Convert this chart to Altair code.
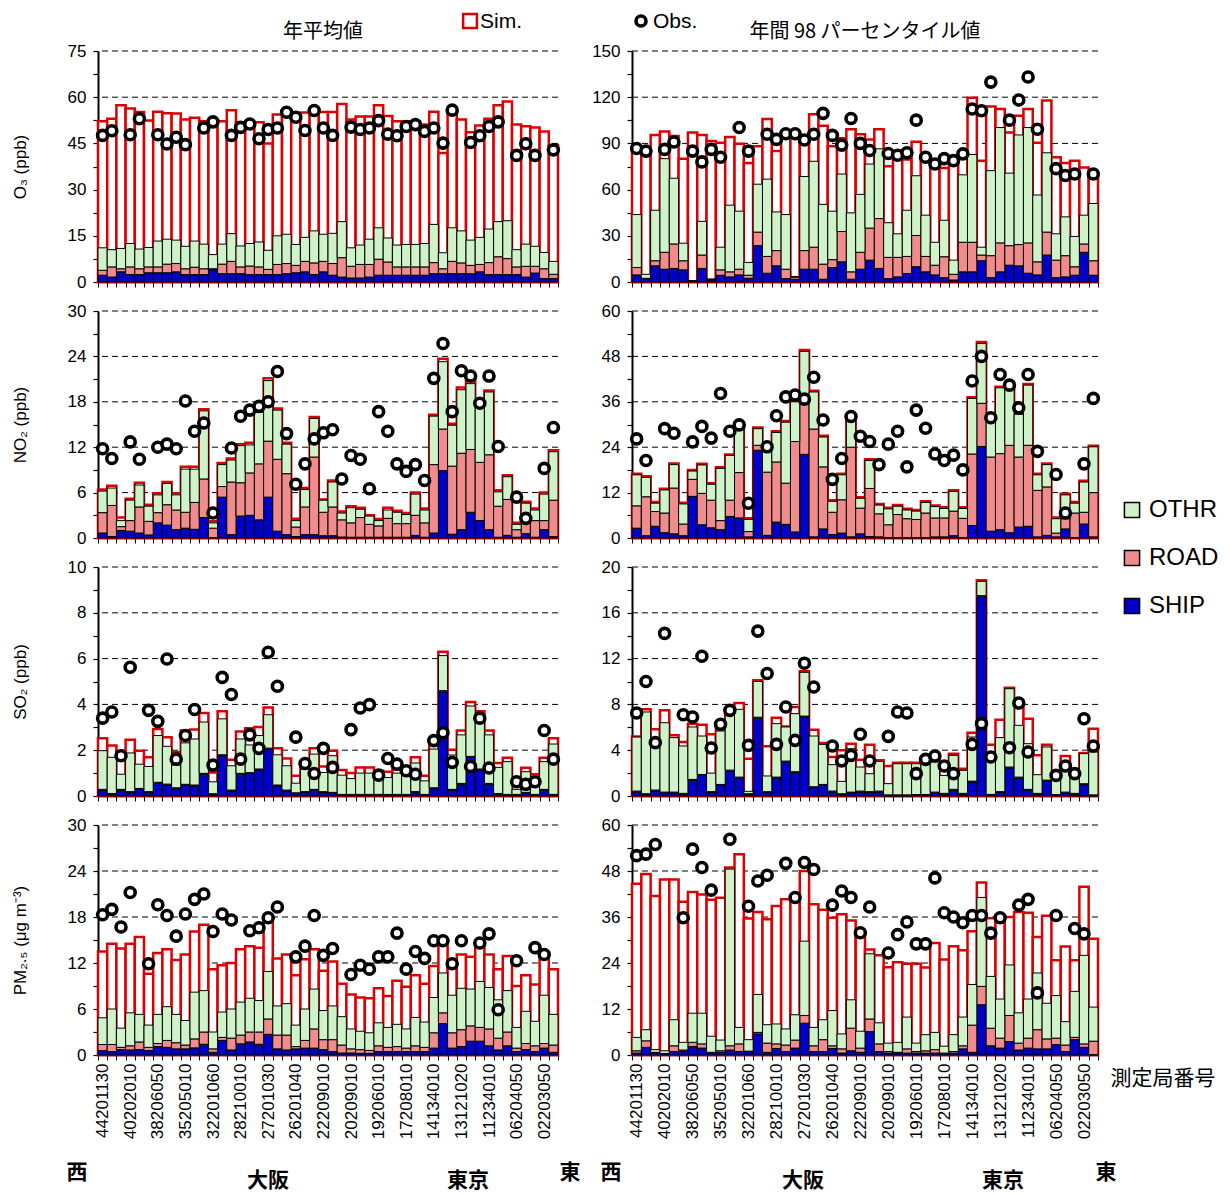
import altair as alt
import pandas as pd

N = 50
STATION_IDX = list(range(N))
STATION_LABELS = ["44201130", "40202010", "38206050", "35205010", "32201060", "28210010",
                  "27201030", "26201040", "22209010", "20209010", "19206010", "17208010",
                  "14134010", "13121020", "11234010", "06204050", "02203050"]
LABEL_STEP = 3

COMPONENTS = ["OTHR", "ROAD", "SHIP"]
COMP_COLORS = ["#d0f2c8", "#f08c8c", "#0000c8"]
SIM_COLOR = "#dd0000"

# ---------------- O3 annual mean (ppb) ----------------
O3A_SHIP = [2.2, 1.6, 3.3, 2.4, 2.4, 3.0, 3.0, 3.0, 3.3, 2.4, 2.4, 2.4, 4.0, 2.7, 2.7, 2.7, 2.4, 2.4, 2.4, 2.4,
            2.7, 3.0, 3.3, 2.4, 3.3, 2.2, 1.6, 1.3, 1.3, 1.6, 2.2, 2.2, 2.2, 2.2, 2.2, 2.2, 2.7, 2.7, 2.7, 2.7,
            2.7, 3.3, 2.4, 2.4, 2.4, 2.4, 1.6, 2.9, 1.1, 1.1]
O3A_ROAD_TOP = [3.8, 4.9, 4.3, 4.9, 4.3, 4.9, 4.9, 5.8, 6.0, 4.3, 4.8, 4.3, 4.3, 5.8, 6.7, 4.9, 5.2, 4.9, 4.1, 5.7,
                6.0, 5.4, 6.7, 6.2, 6.7, 6.0, 7.9, 5.1, 5.7, 5.7, 7.4, 6.5, 4.9, 4.9, 4.9, 4.9, 6.3, 4.3, 6.7, 6.2,
                5.4, 5.7, 6.3, 8.2, 7.6, 4.9, 5.1, 5.1, 4.3, 2.5]
O3A_OTHR_TOP = [11.1, 10.5, 10.9, 12.5, 10.7, 11.2, 13.3, 13.9, 13.6, 11.6, 13.3, 12.3, 8.9, 12.3, 15.7, 11.7, 12.5,
                13.0, 10.3, 15.0, 15.5, 12.2, 14.5, 16.6, 15.5, 15.8, 19.6, 11.1, 12.0, 13.9, 17.6, 14.3, 12.0, 12.2,
                12.2, 12.5, 18.7, 9.5, 17.6, 16.6, 13.6, 14.5, 17.2, 19.6, 19.9, 10.5, 12.3, 11.6, 9.6, 6.7]
O3A_SIM = [52.2, 53.0, 57.4, 56.3, 55.2, 52.4, 55.3, 54.8, 54.7, 52.8, 53.3, 52.2, 52.2, 52.2, 55.8, 51.9, 51.9,
           51.9, 45.0, 54.4, 55.6, 54.8, 55.0, 55.3, 55.2, 55.2, 57.8, 52.8, 53.7, 53.7, 57.4, 53.9, 52.2, 52.2,
           52.2, 51.1, 55.3, 41.9, 55.7, 52.8, 48.6, 50.8, 53.0, 57.4, 58.6, 51.1, 50.6, 50.2, 48.9, 44.4]
O3A_OBS = [47.6, 49.1, None, 47.8, 53.0, None, 47.8, 44.8, 47.0, 44.6, None, 50.0, 52.0, None, 47.6, 50.2, 51.3,
           46.5, 49.5, 50.0, 55.1, 53.5, 49.2, 55.7, 50.0, 47.6, None, 50.3, 49.5, 50.0, 52.4, 48.0, 47.5, 50.5,
           51.1, 48.9, 50.0, 45.1, 55.8, None, 45.3, 47.5, 50.5, 52.0, None, 41.1, 44.9, 41.1, None, 42.9]

# ---------------- O3 annual 98th percentile (ppb) ----------------
O3B_SHIP = [4.6, 1.8, 10.5, 8.3, 8.8, 7.9, 0.7, 8.8, 1.3, 4.4, 3.3, 4.6, 2.4, 23.6, 5.7, 10.5, 2.2, 1.8, 8.3, 8.3,
            1.8, 9.4, 13.1, 1.8, 8.3, 14.2, 8.8, 2.2, 3.3, 5.5, 9.9, 6.6, 4.6, 2.8, 1.3, 6.6, 6.6, 13.8, 2.8, 6.6,
            10.9, 10.5, 5.7, 4.6, 17.5, 2.8, 3.3, 4.4, 19.3, 4.4]
O3B_ROAD_TOP = [9.4, 2.4, 13.8, 19.3, 24.7, 13.8, 0.7, 17.5, 1.8, 7.9, 6.6, 8.3, 4.4, 32.4, 16.6, 20.4, 8.3, 3.3,
                20.4, 22.6, 11.6, 14.5, 32.8, 6.6, 19.3, 35.0, 41.2, 16.0, 16.0, 16.6, 30.2, 16.6, 10.9, 16.4, 5.0,
                25.8, 25.8, 17.5, 17.1, 25.4, 23.6, 24.3, 25.4, 13.1, 32.4, 14.2, 17.1, 9.9, 24.7, 13.8]
O3B_OTHR_TOP = [43.8, 5.0, 46.6, 80.1, 67.4, 25.2, 0.7, 39.4, 1.8, 22.6, 49.9, 46.0, 12.7, 63.5, 66.8, 45.5, 43.8,
                3.3, 68.5, 78.4, 50.4, 46.0, 70.1, 44.9, 56.9, 76.6, 86.5, 38.5, 31.3, 46.6, 69.0, 43.4, 25.8, 40.1,
                14.2, 69.6, 82.8, 22.6, 72.3, 100.3, 70.7, 95.5, 100.3, 56.5, 83.9, 31.3, 42.3, 29.6, 43.4, 51.0]
O3B_SIM = [88.0, 87.0, 95.5, 97.7, 94.8, 80.1, 97.0, 95.5, 91.5, 90.4, 94.2, 89.8, 77.3, 88.2, 105.8, 85.0, 93.7,
           95.9, 91.5, 109.0, 101.4, 88.2, 93.3, 99.2, 95.9, 92.6, 99.2, 75.1, 79.5, 79.5, 91.1, 81.0, 74.0, 74.0,
           78.8, 82.8, 119.6, 78.8, 113.9, 112.3, 97.0, 107.9, 112.3, 90.4, 117.8, 81.0, 77.3, 78.8, 74.4, 67.4]
O3B_OBS = [86.7, 85.0, None, 86.1, 90.9, None, 85.0, 78.0, 86.1, 81.0, None, 100.3, 85.0, None, 95.9, 92.6, 96.3,
           96.3, 92.2, 95.9, 109.5, 95.2, 88.9, 106.2, 90.0, 85.4, None, 83.4, 82.3, 83.9, 105.1, 81.0, 76.6, 80.1,
           78.8, 83.2, 112.3, 111.2, 129.8, None, 105.1, 118.2, 133.1, 99.2, None, 73.6, 69.2, 70.1, None, 70.1]

# ---------------- NO2 annual mean (ppb) ----------------
NO2A_SHIP = [0.66, 0.2, 1.0, 0.9, 0.66, 0.4, 2.0, 1.7, 1.1, 1.3, 1.15, 2.7, 0.05, 5.4, 0.44, 2.9, 3.0, 2.4, 5.4,
             0.9, 0.44, 0.2, 0.44, 0.44, 0.3, 0.3, 0.13, 0.1, 0.1, 0.1, 0.1, 0.1, 0.1, 0.1, 0.35, 0.1, 0.66, 8.9,
             0.5, 1.1, 3.4, 2.3, 1.1, 0.1, 0.35, 0.1, 0.57, 0.1, 1.1, 0.2]
NO2A_ROAD_TOP = [3.35, 4.3, 1.5, 2.3, 4.1, 2.2, 3.35, 4.4, 3.7, 3.4, 4.7, 7.8, 1.3, 6.8, 7.4, 7.3, 8.6, 9.8, 12.8,
                 10.4, 8.5, 1.45, 4.1, 10.7, 3.4, 4.1, 2.4, 2.0, 2.7, 1.8, 1.6, 2.6, 1.9, 1.9, 3.0, 2.0, 9.7, 14.4,
                 9.5, 11.2, 11.7, 10.0, 11.0, 4.2, 5.1, 1.1, 3.2, 2.3, 2.3, 5.0]
NO2A_OTHR_TOP = [6.2, 6.6, 2.3, 5.0, 7.0, 4.2, 5.7, 7.2, 5.7, 9.1, 9.1, 16.8, 2.0, 9.7, 10.3, 12.2, 12.3, 16.6,
                 20.8, 16.9, 12.4, 2.3, 6.4, 15.8, 5.0, 7.4, 3.3, 4.0, 3.8, 2.9, 2.3, 3.7, 3.4, 3.1, 5.8, 3.7, 16.1,
                 23.3, 14.9, 19.6, 20.4, 17.4, 19.3, 6.1, 8.1, 1.8, 4.6, 3.7, 5.8, 11.4]
NO2A_SIM = [6.4, 6.9, 2.7, 5.2, 7.3, 4.4, 5.9, 7.4, 5.9, 9.4, 9.4, 17.0, 2.2, 9.9, 10.5, 12.4, 12.6, 16.8, 21.1,
            17.1, 12.6, 2.55, 6.6, 16.0, 5.1, 7.6, 3.5, 4.2, 4.0, 3.0, 2.5, 4.0, 3.6, 3.3, 6.0, 3.9, 16.3, 23.7,
            15.1, 19.9, 20.7, 17.7, 19.5, 6.3, 8.3, 2.0, 4.8, 3.9, 6.0, 11.6]
NO2A_OBS = [11.8, 10.5, None, 12.7, 10.4, None, 12.0, 12.4, 11.8, 18.1, 14.1, 15.2, 3.3, None, 11.9, 16.1, 16.9,
            17.4, 18.0, 22.0, 13.8, 7.1, 9.8, 13.1, 13.9, 14.3, 7.8, 10.9, 10.4, 6.5, 16.7, 14.1, 9.8, 8.8, 9.7,
            7.6, 21.1, 25.7, 16.7, 22.1, 21.4, 17.8, 21.4, 12.1, None, 5.4, 2.6, None, 9.2, 14.6]

# ---------------- NO2 annual 98th percentile (ppb) ----------------
NO2B_SHIP = [2.6, 0.6, 3.1, 1.4, 1.1, 0.6, 11.0, 3.5, 2.7, 2.2, 5.7, 5.3, 0.3, 23.2, 0.7, 4.2, 3.6, 1.6, 22.1, 0.3,
             2.4, 0.9, 1.3, 0.3, 1.1, 0.4, 0.3, 0.1, 0.1, 0.1, 0.1, 0.1, 0.3, 0.3, 0.6, 0.1, 3.3, 24.2, 1.8, 2.2,
             1.4, 2.9, 3.1, 0.3, 0.7, 0.3, 2.4, 0.1, 3.7, 0.3]
NO2B_ROAD_TOP = [8.5, 10.9, 7.0, 6.6, 13.2, 3.7, 15.5, 11.8, 10.0, 4.6, 10.0, 17.3, 1.7, 24.5, 17.4, 20.1, 14.5,
                 25.5, 35.4, 28.8, 18.8, 6.8, 10.1, 24.0, 7.9, 13.1, 6.4, 3.5, 6.2, 5.1, 4.9, 6.6, 5.3, 5.3, 7.1,
                 5.2, 22.2, 35.6, 21.4, 22.3, 24.5, 21.4, 24.5, 12.6, 13.5, 1.3, 5.1, 6.6, 6.8, 12.0]
NO2B_OTHR_TOP = [16.7, 16.0, 9.2, 12.7, 19.4, 9.0, 17.7, 19.3, 14.2, 18.4, 21.8, 29.5, 4.9, 28.9, 24.7, 27.9, 30.6,
                 36.0, 49.3, 38.6, 26.7, 9.7, 16.7, 31.2, 10.5, 20.5, 8.7, 7.7, 8.4, 7.4, 7.1, 9.4, 8.3, 7.8, 12.3,
                 7.8, 36.9, 51.4, 32.5, 39.7, 39.3, 32.7, 40.4, 16.7, 19.4, 5.1, 11.4, 9.2, 14.8, 24.1]
NO2B_SIM = [17.0, 16.3, 9.5, 13.0, 19.7, 9.3, 18.0, 19.6, 14.5, 18.7, 22.1, 29.8, 5.2, 29.2, 25.0, 28.2, 30.9, 36.3,
            49.7, 38.9, 27.0, 10.0, 17.0, 31.5, 10.8, 20.8, 9.0, 8.0, 8.7, 7.7, 7.4, 9.7, 8.6, 8.1, 12.6, 8.1, 37.2,
            51.8, 32.8, 40.0, 39.6, 33.0, 40.7, 17.0, 19.7, 5.4, 11.7, 9.5, 15.1, 24.4]
NO2B_OBS = [26.2, 20.5, None, 28.9, 27.7, None, 25.4, 29.5, 26.4, 38.2, 28.2, 29.9, 9.2, None, 24.1, 32.3, 37.3,
            37.8, 36.7, 42.5, 31.2, 15.5, 21.0, 32.1, 26.9, 25.5, 19.4, 24.8, 28.2, 18.8, 33.8, 29.0, 22.2, 20.5,
            21.9, 18.0, 41.5, 48.0, 31.8, 43.2, 40.4, 34.4, 43.2, 22.9, None, 16.8, 6.6, None, 19.6, 36.9]

# ---------------- SO2 annual mean (ppb) ----------------
SO2A_SHIP = [0.25, 0.07, 0.25, 0.15, 0.29, 0.15, 0.56, 0.48, 0.32, 0.47, 0.44, 0.95, 0.06, 1.76, 0.22, 0.95, 0.98,
             1.14, 2.05, 0.44, 0.22, 0.10, 0.15, 0.25, 0.15, 0.12, 0.03, 0.03, 0.03, 0.03, 0.03, 0.03, 0.03, 0.03,
             0.15, 0.03, 0.32, 4.55, 0.25, 0.51, 1.69, 1.14, 0.51, 0.07, 0.03, 0.03, 0.12, 0.03, 0.25, 0.03]
SO2A_ROAD_TOP = [0.29, 0.11, 0.29, 0.19, 0.33, 0.19, 0.60, 0.52, 0.36, 0.51, 0.48, 0.99, 0.10, 1.80, 0.26, 0.99,
                 1.02, 1.18, 2.09, 0.48, 0.26, 0.14, 0.19, 0.29, 0.19, 0.16, 0.07, 0.07, 0.07, 0.07, 0.07, 0.07,
                 0.07, 0.07, 0.19, 0.07, 0.36, 4.60, 0.29, 0.55, 1.73, 1.18, 0.55, 0.11, 0.07, 0.07, 0.16, 0.07,
                 0.29, 0.07]
SO2A_OTHR_TOP = [1.98, 1.69, 0.95, 1.88, 1.39, 1.29, 2.64, 2.17, 1.35, 2.32, 2.49, 3.23, 0.62, 3.37, 1.32, 2.49,
                 2.23, 2.64, 3.55, 1.80, 1.32, 0.56, 1.17, 1.83, 1.03, 1.76, 0.91, 0.76, 1.00, 1.00, 0.88, 0.81,
                 1.00, 0.88, 1.44, 0.66, 2.05, 6.13, 1.79, 2.67, 3.93, 3.30, 2.67, 1.25, 1.50, 0.29, 1.06, 0.76,
                 1.50, 2.27]
SO2A_SIM = [2.52, 2.20, 1.95, 2.46, 1.98, 1.69, 2.93, 2.57, 1.91, 2.86, 2.90, 3.62, 1.03, 3.70, 1.58, 2.82, 2.96,
            3.01, 3.86, 2.08, 1.64, 0.88, 1.44, 2.08, 1.29, 1.98, 1.13, 1.00, 1.25, 1.25, 1.10, 1.06, 1.17, 1.14,
            1.69, 0.88, 2.52, 6.30, 2.02, 2.86, 4.11, 3.70, 2.86, 1.44, 1.67, 0.51, 1.23, 0.95, 1.67, 2.52]
SO2A_OBS = [3.40, 3.67, 1.76, 5.62, None, 3.74, 3.26, 5.98, 1.61, 2.64, 3.78, None, 1.35, 5.18, 4.43, 1.61, 2.67,
            2.08, 6.28, 4.79, None, 2.57, 1.42, 0.98, 2.08, 1.25, None, 2.90, 3.84, 3.99, 0.91, 1.64, 1.39, 1.10,
            0.95, None, 2.42, 2.76, 1.47, None, 1.29, 3.40, 1.22, None, None, 0.62, 0.51, 0.62, 2.86, 1.61]

# ---------------- SO2 annual 98th percentile (ppb) ----------------
SO2B_SHIP = [0.35, 0.12, 0.44, 0.26, 0.26, 0.15, 1.37, 1.80, 0.30, 0.93, 2.18, 1.57, 0.12, 6.80, 0.30, 1.57, 2.97,
             2.04, 6.90, 0.73, 0.93, 0.35, 0.12, 0.26, 0.35, 0.30, 0.35, 0.02, 0.02, 0.02, 0.05, 0.05, 0.26, 0.15,
             0.50, 0.15, 1.22, 17.40, 0.06, 0.30, 2.45, 1.57, 0.50, 0.15, 1.31, 0.05, 0.26, 0.15, 0.99, 0.02]
SO2B_ROAD_TOP = [0.43, 0.20, 0.52, 0.34, 0.34, 0.23, 1.45, 1.88, 0.38, 1.01, 2.26, 1.65, 0.20, 6.88, 0.38, 1.65,
                 3.05, 2.12, 6.98, 0.81, 1.01, 0.43, 0.20, 0.34, 0.43, 0.38, 0.43, 0.10, 0.10, 0.10, 0.13, 0.13,
                 0.34, 0.23, 0.58, 0.23, 1.30, 17.50, 0.14, 0.38, 2.53, 1.65, 0.58, 0.23, 1.39, 0.13, 0.34, 0.23,
                 1.07, 0.10]
SO2B_OTHR_TOP = [5.15, 7.34, 4.66, 6.40, 5.10, 4.37, 6.03, 5.24, 2.00, 5.68, 7.05, 7.57, 0.41, 10.00, 1.75, 6.32,
                 6.03, 7.19, 10.80, 5.24, 4.51, 2.74, 1.28, 4.13, 2.53, 1.95, 3.03, 1.08, 2.82, 2.82, 2.82, 2.97,
                 2.97, 1.80, 3.55, 2.24, 5.15, 18.75, 3.61, 5.10, 9.37, 6.17, 4.57, 1.86, 4.28, 1.46, 2.97, 1.75,
                 3.70, 3.84]
SO2B_SIM = [5.20, 7.57, 5.82, 7.48, 5.30, 4.72, 6.32, 6.23, 5.39, 5.97, 7.42, 8.12, 3.26, 10.10, 4.34, 6.84, 6.08,
            7.77, 10.90, 5.79, 4.63, 3.41, 3.99, 4.57, 3.17, 4.48, 3.12, 2.62, 2.91, 2.91, 2.91, 3.17, 3.32, 2.82,
            3.70, 2.39, 5.53, 18.85, 4.48, 6.67, 9.46, 7.69, 6.75, 3.55, 4.48, 1.72, 3.49, 1.95, 3.76, 5.88]
SO2B_OBS = [7.25, 10.00, 4.66, 14.20, None, 7.10, 6.90, 12.20, 4.19, 6.26, 7.48, None, 4.42, 14.40, 10.70, 4.51,
            7.77, 4.86, 11.60, 9.52, None, 4.37, 3.06, 3.55, 5.39, 3.06, None, 5.21, 7.34, 7.25, 1.95, 3.20, 3.49,
            2.62, 1.95, None, 4.51, 6.32, 3.41, None, 4.22, 8.12, 3.84, None, None, 1.80, 2.62, 1.95, 6.75, 4.37]

# ---------------- PM2.5 annual mean (ug m-3) ----------------
PMA_SHIP = [0.57, 0.44, 0.7, 0.66, 0.7, 0.57, 1.1, 1.0, 0.8, 0.8, 0.93, 1.4, 0.35, 1.9, 0.66, 1.46, 1.7, 1.4, 2.7,
            0.8, 0.66, 0.8, 0.9, 0.9, 0.7, 0.44, 0.26, 0.26, 0.22, 0.22, 0.44, 0.44, 0.44, 0.44, 0.44, 0.44, 0.9,
            4.1, 0.9, 1.1, 1.8, 1.8, 1.2, 0.66, 1.2, 0.44, 0.7, 0.44, 0.9, 0.35]
PMA_ROAD_TOP = [1.37, 1.37, 1.0, 1.2, 1.7, 1.0, 1.5, 1.9, 1.6, 1.3, 2.1, 3.0, 0.8, 2.3, 2.2, 2.6, 3.0, 3.0, 4.7,
                2.6, 2.6, 1.1, 1.9, 3.4, 2.0, 2.0, 1.3, 0.8, 0.7, 0.6, 1.2, 1.0, 1.1, 0.9, 1.2, 1.0, 2.9, 5.5, 2.9,
                3.3, 3.8, 3.6, 3.4, 2.2, 3.0, 0.9, 1.5, 1.2, 1.5, 1.3]
PMA_OTHR_TOP = [4.85, 6.0, 3.5, 5.5, 5.3, 3.9, 5.3, 6.3, 5.3, 4.5, 8.2, 8.4, 3.0, 5.6, 6.0, 6.9, 7.4, 7.1, 10.9,
                6.4, 6.7, 3.9, 6.0, 8.6, 5.8, 6.4, 5.0, 3.4, 3.1, 2.9, 4.2, 3.6, 4.0, 3.4, 4.9, 4.3, 7.5, 10.7, 7.8,
                8.7, 8.6, 9.6, 8.8, 7.2, 8.4, 3.6, 5.7, 4.4, 7.8, 5.3]
PMA_SIM = [13.5, 14.5, 13.9, 14.5, 15.4, 10.6, 13.3, 13.8, 12.4, 13.1, 16.1, 17.0, 11.2, 11.7, 12.0, 13.8, 14.2,
           14.0, 17.6, 12.6, 13.1, 10.4, 12.5, 13.8, 11.0, 12.2, 9.3, 7.9, 7.5, 7.4, 8.7, 7.7, 9.7, 8.9, 10.4, 9.3,
           11.6, 14.7, 12.3, 13.1, 12.8, 14.0, 13.1, 11.2, 12.9, 9.0, 10.4, 9.2, 12.7, 11.2]
PMA_OBS = [18.3, 19.0, 16.7, 21.2, None, 11.9, 19.6, 18.2, 15.5, 18.4, 20.3, 21.0, 16.1, 18.4, 17.6, None, 16.2,
           16.6, 17.9, 19.3, None, 12.8, 14.2, 18.2, 13.0, 13.9, None, 10.5, 11.7, 11.2, 12.8, 12.8, 15.9, 11.2,
           13.5, 12.6, 14.9, 14.9, 11.9, 14.9, None, 14.6, 15.8, 5.9, None, 12.3, None, 14.0, 13.1, None]

# ---------------- PM2.5 annual 98th percentile (ug m-3) ----------------
PMB_SHIP = [0.5, 2.0, 0.4, 0.3, 0.9, 1.0, 2.2, 1.8, 0.5, 0.7, 1.3, 0.9, 0.9, 5.5, 0.7, 1.7, 0.9, 1.8, 8.3, 0.9,
            0.9, 1.7, 0.5, 1.1, 0.7, 6.1, 0.9, 0.5, 0.5, 0.5, 0.5, 0.5, 0.5, 0.3, 0.5, 1.6, 0.7, 13.1, 2.4, 1.8,
            3.5, 1.3, 1.8, 1.6, 1.6, 2.7, 0.9, 4.0, 2.0, 0.1]
PMB_ROAD_TOP = [1.1, 3.7, 0.7, 0.4, 2.4, 1.3, 3.3, 2.9, 0.7, 1.1, 2.4, 2.9, 1.0, 5.9, 3.1, 2.9, 2.6, 3.9, 10.3, 2.4,
                4.0, 2.4, 1.6, 7.0, 1.8, 9.4, 2.9, 0.9, 0.7, 1.6, 0.9, 1.1, 1.4, 0.5, 0.9, 2.4, 7.8, 17.9, 7.0, 4.4,
                10.3, 3.1, 4.4, 6.6, 4.2, 4.4, 2.6, 4.6, 2.9, 3.6]
PMB_OTHR_TOP = [4.6, 6.6, 1.4, 1.1, 9.2, 3.3, 10.9, 10.9, 4.9, 3.9, 48.5, 7.2, 4.0, 15.8, 7.9, 8.1, 6.8, 10.5, 29.7,
                7.2, 9.2, 11.6, 5.5, 14.4, 6.2, 26.4, 8.4, 3.1, 3.3, 9.9, 3.1, 5.3, 5.9, 2.3, 5.3, 9.9, 18.4, 41.1,
                20.5, 14.6, 23.5, 11.0, 14.6, 21.4, 13.5, 15.5, 8.7, 16.6, 26.0, 12.5]
PMB_SIM = [44.7, 47.2, 41.5, 45.8, 45.8, 40.0, 42.5, 41.9, 40.5, 41.0, 48.9, 52.4, 35.6, 37.3, 35.4, 38.9, 40.6,
           41.0, 48.0, 39.3, 37.9, 35.8, 36.7, 35.1, 32.3, 27.5, 26.0, 22.9, 24.2, 23.8, 23.8, 22.8, 29.2, 24.9,
           28.4, 27.3, 32.3, 45.0, 35.7, 36.4, 36.0, 37.3, 37.1, 30.8, 36.3, 24.7, 28.3, 24.7, 43.9, 30.3]
PMB_OBS = [52.0, 52.4, 54.9, None, None, 35.8, 53.7, 48.9, 43.0, None, 56.3, None, 38.8, 45.4, 46.9, None, 50.0,
           41.1, 50.2, 48.4, None, 39.1, 42.8, 41.1, 31.9, 38.6, None, 26.6, 31.4, 34.7, 29.0, 29.0, 46.2, 37.1,
           36.0, 34.5, 36.4, 36.4, 31.8, 35.8, None, 39.1, 40.6, 16.2, None, 36.4, None, 33.0, 31.6, None]

FONT = "Liberation Sans"
JP_FONT = "Noto Sans CJK JP"

LEFT_W, RIGHT_W = 460, 466
ROW_H = [231, 227, 229, 230]

OBS_SIZE = 100
OBS_STROKE = 3.6


def frange(stop, step):
    vals = []
    k = 0
    while k * step <= stop + 1e-9:
        vals.append(round(k * step, 4))
        k += 1
    return vals


def text_layer(txt, x, y, size, font=JP_FONT, align="center", weight="normal"):
    return alt.Chart(pd.DataFrame({"t": [txt]})).mark_text(
        font=font, fontSize=size, align=align, baseline="middle", color="black", fontWeight=weight
    ).encode(x=alt.value(x), y=alt.value(y), text="t:N")


LABEL_LIST = "[" + ",".join("'" + s + "'" for s in STATION_LABELS) + "]"
LABEL_EXPR = ("datum.value % " + str(LABEL_STEP) + " === 0 ? " + LABEL_LIST
              + "[floor(datum.value / " + str(LABEL_STEP) + ")] : ''")


def panel(ship, road_top, othr_top, sim, obs, ymax, tick_step, label_step, width, height,
          y_title, bottom, extras):
    x_axis = alt.Axis(tickBand="extent", tickSize=5, tickColor="black", tickWidth=1,
                      domainColor="black", domainWidth=1.5, grid=False, title="",
                      labels=bottom, labelAngle=270, labelExpr=LABEL_EXPR, labelFont=FONT,
                      labelFontSize=17, labelColor="black", labelPadding=3, labelOverlap=False)
    x = alt.X("i:O", scale=alt.Scale(paddingInner=0, paddingOuter=0), axis=x_axis)
    y_axis = alt.Axis(values=frange(ymax, tick_step),
                      labelExpr="datum.value % " + str(label_step) + " === 0 ? datum.label : ''",
                      grid=False, tickSize=5, tickColor="black", tickWidth=1.2,
                      domainColor="black", domainWidth=2, labelFont=FONT, labelFontSize=17,
                      labelColor="black", labelPadding=7, labelOverlap=False,
                      title=y_title, titleFont=FONT, titleFontSize=17, titleFontWeight="normal",
                      titleColor="black", titleAngle=270, titleX=-78, titleY=height / 2,
                      titleAlign="center", titleBaseline="middle")
    yscale = alt.Scale(domain=[0, ymax], nice=False, zero=True)

    grid_df = pd.DataFrame({"g": [v for v in frange(ymax, label_step) if v > 0]})
    grid = alt.Chart(grid_df).mark_rule(color="black", strokeWidth=1, strokeDash=[6, 4]).encode(
        y=alt.Y("g:Q", scale=yscale, axis=y_axis))

    sim_df = pd.DataFrame({"i": STATION_IDX, "sim": sim})
    sim_bars = alt.Chart(sim_df).mark_bar(fill="white", stroke=SIM_COLOR, strokeWidth=2.5).encode(
        x=x, y=alt.Y("sim:Q", scale=yscale, axis=y_axis))

    stack_df = pd.DataFrame({
        "i": STATION_IDX * 3,
        "comp": ["SHIP"] * N + ["ROAD"] * N + ["OTHR"] * N,
        "y0": [0.0] * N + list(ship) + list(road_top),
        "y1": list(ship) + list(road_top) + list(othr_top),
    })
    stack = alt.Chart(stack_df).mark_bar(stroke="black", strokeWidth=1).encode(
        x=x,
        y=alt.Y("y1:Q", scale=yscale, axis=y_axis),
        y2="y0:Q",
        color=alt.Color("comp:N", scale=alt.Scale(domain=COMPONENTS, range=COMP_COLORS),
                        legend=alt.Legend(orient="none", legendX=1022, legendY=447, title=None,
                                          symbolType="square", symbolSize=230,
                                          symbolStrokeColor="black", symbolStrokeWidth=1.5,
                                          labelFont=FONT, labelFontSize=24, labelColor="black",
                                          rowPadding=24, labelOffset=5, padding=0)),
    )

    obs_df = pd.DataFrame({"i": [k for k, v in enumerate(obs) if v is not None],
                           "obs": [v for v in obs if v is not None]})
    obs_pts = alt.Chart(obs_df).mark_point(shape="circle", filled=True, fill="white", stroke="black",
                                           strokeWidth=OBS_STROKE, size=OBS_SIZE, opacity=1).encode(
        x=x, y=alt.Y("obs:Q", scale=yscale, axis=y_axis))

    return alt.layer(grid, sim_bars, stack, obs_pts, *extras).properties(width=width, height=height)


# header / footer annotations
o3a_extra = [
    text_layer("年平均値", 225, -19, 20),
    alt.Chart(pd.DataFrame({"t": ["Sim."]})).mark_square(size=190, fill="white", stroke=SIM_COLOR,
                                                         strokeWidth=2.5, opacity=1).encode(
        x=alt.value(372), y=alt.value(-30)),
    text_layer("Sim.", 382, -29, 21, font=FONT, align="left"),
]
o3b_extra = [
    text_layer("年間 98 パーセンタイル値", 233, -19, 20),
    alt.Chart(pd.DataFrame({"t": ["Obs."]})).mark_point(shape="circle", filled=True, fill="white",
                                                        stroke="black", strokeWidth=OBS_STROKE,
                                                        size=OBS_SIZE, opacity=1).encode(
        x=alt.value(9), y=alt.value(-30)),
    text_layer("Obs.", 21, -29, 21, font=FONT, align="left"),
]
pma_extra = [
    text_layer("西", -21, 348, 21, weight="bold"),
    text_layer("大阪", 170, 356, 21, weight="bold"),
    text_layer("東京", 370, 356, 21, weight="bold"),
    text_layer("東", 472, 348, 21, weight="bold"),
]
pmb_extra = [
    text_layer("西", -21, 348, 21, weight="bold"),
    text_layer("大阪", 171, 356, 21, weight="bold"),
    text_layer("東京", 371, 356, 21, weight="bold"),
    text_layer("東", 474, 348, 21, weight="bold"),
    text_layer("測定局番号", 531, 254, 21),
]

panels = [
    panel(O3A_SHIP, O3A_ROAD_TOP, O3A_OTHR_TOP, O3A_SIM, O3A_OBS, 75, 7.5, 15, LEFT_W, ROW_H[0],
          "O₃ (ppb)", False, o3a_extra),
    panel(O3B_SHIP, O3B_ROAD_TOP, O3B_OTHR_TOP, O3B_SIM, O3B_OBS, 150, 15, 30, RIGHT_W, ROW_H[0],
          "", False, o3b_extra),
    panel(NO2A_SHIP, NO2A_ROAD_TOP, NO2A_OTHR_TOP, NO2A_SIM, NO2A_OBS, 30, 3, 6, LEFT_W, ROW_H[1],
          "NO₂ (ppb)", False, []),
    panel(NO2B_SHIP, NO2B_ROAD_TOP, NO2B_OTHR_TOP, NO2B_SIM, NO2B_OBS, 60, 6, 12, RIGHT_W, ROW_H[1],
          "", False, []),
    panel(SO2A_SHIP, SO2A_ROAD_TOP, SO2A_OTHR_TOP, SO2A_SIM, SO2A_OBS, 10, 1, 2, LEFT_W, ROW_H[2],
          "SO₂ (ppb)", False, []),
    panel(SO2B_SHIP, SO2B_ROAD_TOP, SO2B_OTHR_TOP, SO2B_SIM, SO2B_OBS, 20, 2, 4, RIGHT_W, ROW_H[2],
          "", False, []),
    panel(PMA_SHIP, PMA_ROAD_TOP, PMA_OTHR_TOP, PMA_SIM, PMA_OBS, 30, 3, 6, LEFT_W, ROW_H[3],
          "PM₂.₅ (μg m⁻³)", True, pma_extra),
    panel(PMB_SHIP, PMB_ROAD_TOP, PMB_OTHR_TOP, PMB_SIM, PMB_OBS, 60, 6, 12, RIGHT_W, ROW_H[3],
          "", True, pmb_extra),
]

chart = alt.concat(*panels, columns=2, spacing={"row": 29, "column": 74}, bounds="flush",
                   align="each").resolve_scale(
    x="independent", y="independent", color="shared"
).properties(
    padding={"left": 3, "top": 0, "right": 0, "bottom": 8}, background="white"
).configure_view(strokeWidth=0)

chart.save("out.html", embed_options={"renderer": "svg", "actions": False})
